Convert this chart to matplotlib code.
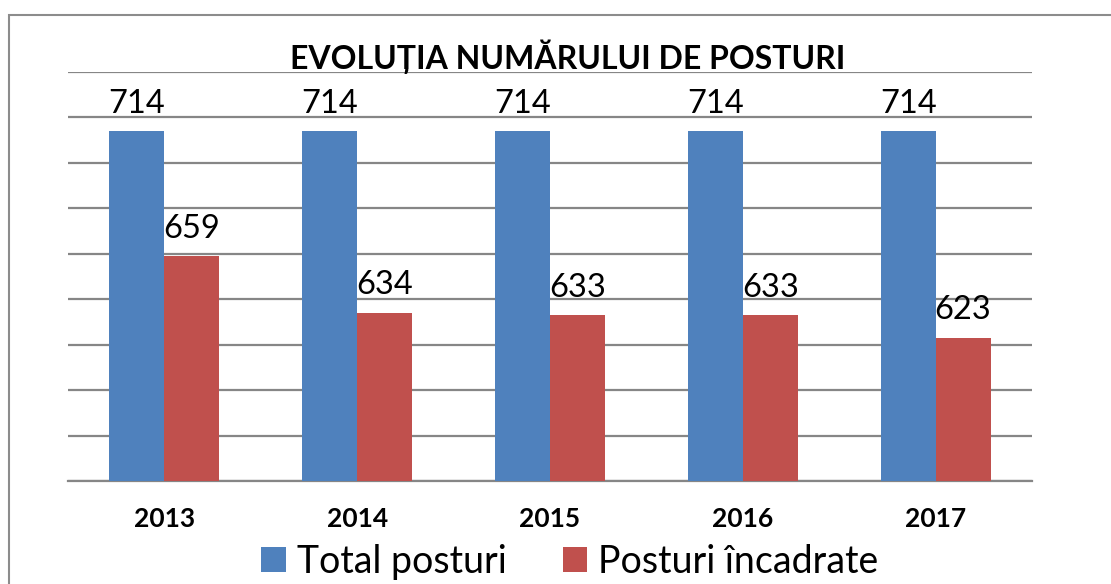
import numpy as np
import matplotlib.pyplot as plt
from matplotlib.patches import Rectangle

years = ["2013", "2014", "2015", "2016", "2017"]
total = [714, 714, 714, 714, 714]
incadrate = [659, 634, 633, 633, 623]
series_names = ["Total posturi", "Posturi încadrate"]
title = "EVOLUȚIA NUMĂRULUI DE POSTURI"

plt.rcParams['font.family'] = ['Lato', 'DejaVu Sans']

fig = plt.figure(figsize=(11.11, 5.84), dpi=100)
ax = fig.add_axes([68 / 1111, 1 - 481 / 584, 964 / 1111, 409 / 584])

# outer frame of the chart
fig.patches.append(Rectangle((9 / 1111, -0.1), 1.2, 1 - 15 / 584 + 0.1,
                             transform=fig.transFigure, fill=False,
                             edgecolor="#8c8c8c", lw=1.5))

x = np.arange(len(years))
w = 0.285
b1 = ax.bar(x - w / 2, total, w, color="#4F81BD", label=series_names[0], zorder=3)
b2 = ax.bar(x + w / 2, incadrate, w, color="#C0504D", label=series_names[1], zorder=3)

for bars in (b1, b2):
    for r in bars:
        ax.annotate(str(int(r.get_height())),
                    (r.get_x() + r.get_width() / 2, r.get_height()),
                    xytext=(0, 9), textcoords="offset points",
                    ha="center", va="bottom", fontsize=23.5)

ax.set_ylim(560, 740)
ax.set_xlim(-0.5, len(years) - 0.5)
ax.set_yticks(np.arange(560, 741, 20))
ax.yaxis.grid(True, color="#868686", lw=1.6, zorder=0)
ax.tick_params(axis="y", left=False, labelleft=False)
ax.tick_params(axis="x", length=0, pad=19)
ax.set_xticks(x)
ax.set_xticklabels(years, fontsize=19, fontweight="bold")
for s in ["left", "right", "top"]:
    ax.spines[s].set_visible(False)
ax.spines["bottom"].set_color("#868686")
ax.spines["bottom"].set_linewidth(1.6)

fig.text(0.511, 1 - 57 / 584, title, ha="center", va="center",
         fontsize=23, fontweight="bold")

fig.legend(loc="center", bbox_to_anchor=(0.513, 1 - 562 / 584), ncol=2,
           frameon=False, fontsize=27, handlelength=0.65, handleheight=0.65,
           handletextpad=0.3, columnspacing=1.5, borderpad=0.1)

fig.savefig("out.png", dpi=100)
